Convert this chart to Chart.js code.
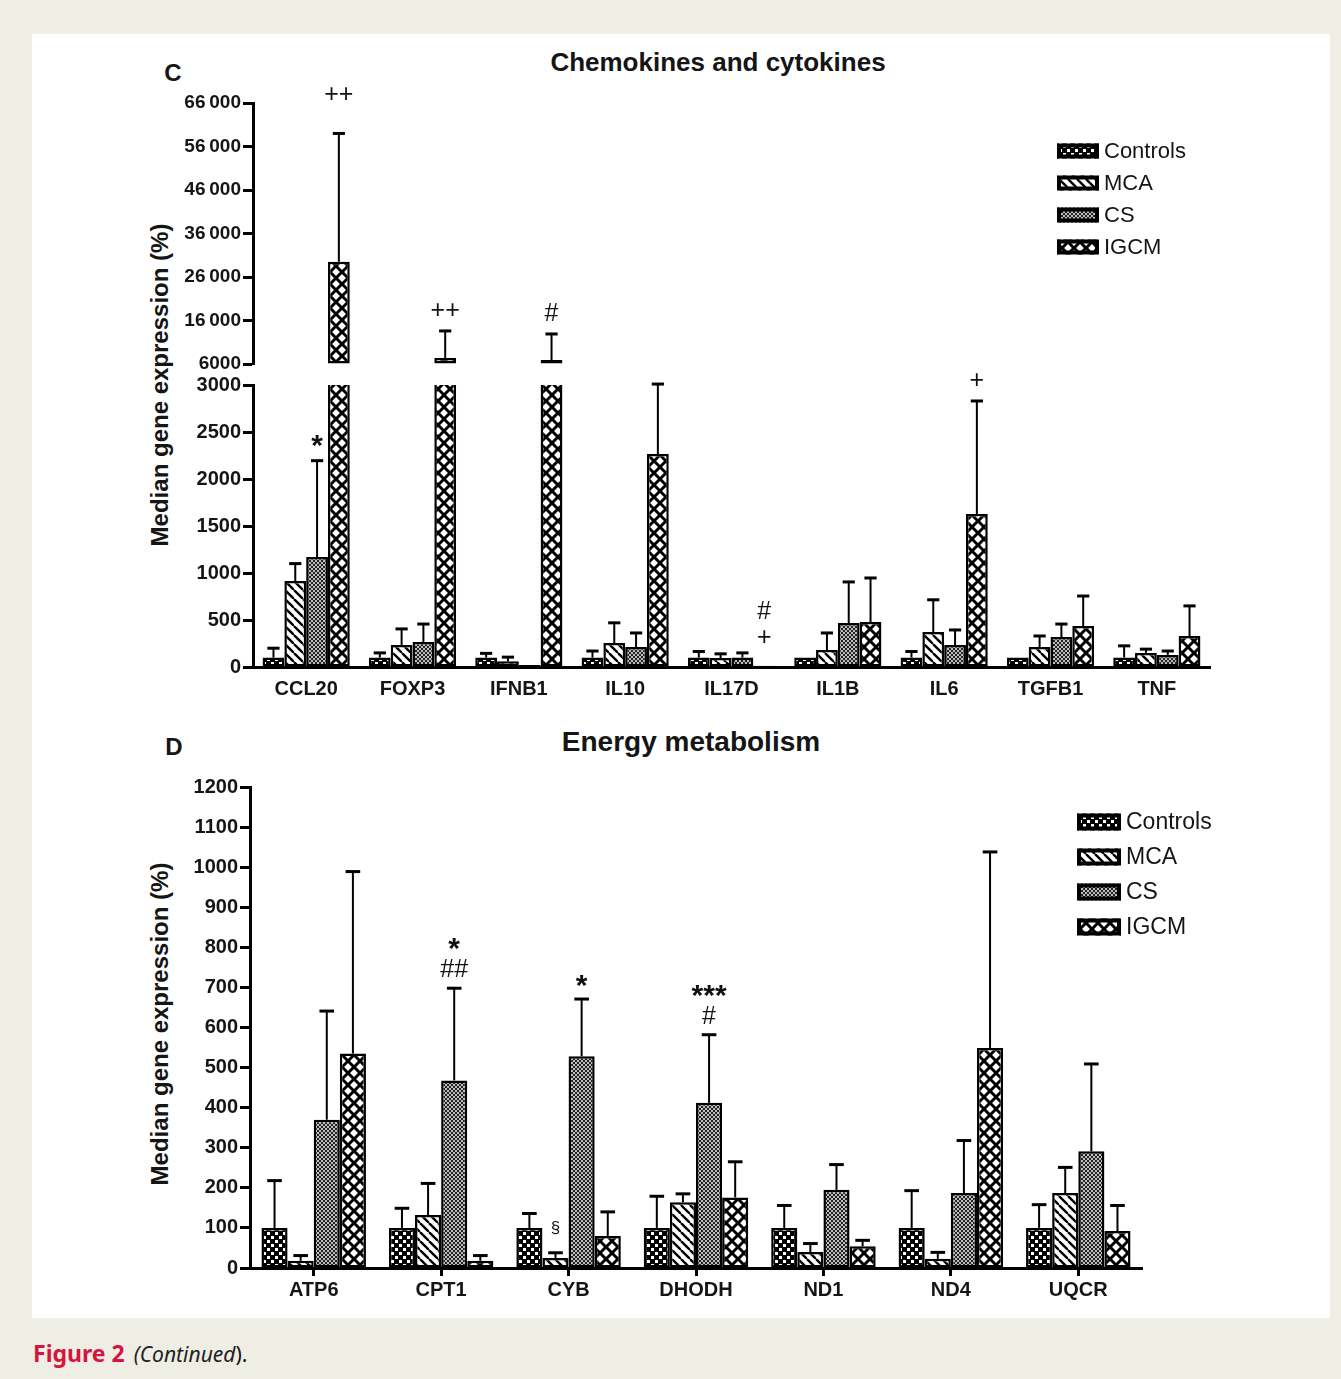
<!DOCTYPE html>
<html>
<head>
<meta charset="utf-8">
<title>Figure 2 (Continued)</title>
<script src="https://cdn.jsdelivr.net/npm/chart.js@4.4.1/dist/chart.umd.min.js"></script>
<style>
  body { margin: 0; width: 1341px; height: 1379px; position: relative; overflow: hidden;
         background: #efeee5; font-family: "Liberation Sans", Arial, sans-serif; color: #151515; }
  .panel { position: absolute; left: 32px; top: 34px; width: 1298px; height: 1284px; background: #fff; }
  canvas { position: absolute; }
  .t { position: absolute; white-space: nowrap; transform: translate(-50%, -50%); font-weight: bold; }
  .ylab { transform: translate(-50%, -50%) rotate(-90deg); font-size: 24px; }
  .caption { position: absolute; left: 33px; top: 1337px; font-family: "Noto Sans", sans-serif; font-size: 21px; }
  .caption b { color: #d3153f; font-size: 23px; }
  .caption i { margin-left: 9px; color: #222; }
</style>
</head>
<body>
<div class="panel"></div>

<div class="t" style="left:173px;top:73px;font-size:24px">C</div>
<div class="t" style="left:718px;top:62px;font-size:26px">Chemokines and cytokines</div>
<div class="t ylab" style="left:160px;top:385px">Median gene expression (%)</div>

<div class="t" style="left:174px;top:747px;font-size:24px">D</div>
<div class="t" style="left:691px;top:742px;font-size:28px">Energy metabolism</div>
<div class="t ylab" style="left:160px;top:1024px">Median gene expression (%)</div>

<canvas id="cUpper" width="1100" height="300" style="left:150px;top:80px"></canvas>
<canvas id="cLower" width="1100" height="342" style="left:150px;top:365px"></canvas>
<canvas id="dChart" width="1100" height="555" style="left:150px;top:755px"></canvas>

<div class="caption"><b>Figure 2</b><i>(Continued</i>).</div>

<script>
'use strict';

// ---- data ---------------------------------------------------------------
var groups = ['Controls', 'MCA', 'CS', 'IGCM'];

// panel C: chemokines and cytokines
var cCategories = ['CCL20', 'FOXP3', 'IFNB1', 'IL10', 'IL17D', 'IL1B', 'IL6', 'TGFB1', 'TNF'];
var cControls    = [100, 100, 100, 100, 100, 100, 100, 100, 100];
var cControlsErr = [200, 150, 145, 170, 165, null, 165, null, 225];
var cMCA         = [915, 235, 60, 255, 95, 180, 372, 213, 150];
var cMCAErr      = [1100, 405, 105, 470, 140, 362, 715, 330, 190];
var cCS          = [1170, 265, 20, 213, 100, 468, 234, 319, 128];
var cCSErr       = [2195, 457, null, 362, 150, 905, 394, 457, 170];
var cIGCM        = [29500, 7400, 6900, 2265, 12, 479, 1628, 436, 330];
var cIGCMErr     = [59000, 13600, 12900, 3010, null, 947, 2830, 755, 650];

var cUpperTicks      = [6000, 16000, 26000, 36000, 46000, 56000, 66000];
var cUpperTickLabels = ['6000', '16\u2009000', '26\u2009000', '36\u2009000', '46\u2009000', '56\u2009000', '66\u2009000'];
var cLowerTicks      = [0, 500, 1000, 1500, 2000, 2500, 3000];
var cLowerTickLabels = ['0', '500', '1000', '1500', '2000', '2500', '3000'];

// panel D: energy metabolism
var dCategories = ['ATP6', 'CPT1', 'CYB', 'DHODH', 'ND1', 'ND4', 'UQCR'];
var dControls    = [100, 100, 100, 100, 100, 100, 100];
var dControlsErr = [218, 149, 136, 179, 156, 193, 158];
var dMCA         = [18, 132, 25, 164, 40, 23, 187];
var dMCAErr      = [31, 211, 38, 185, 61, 39, 251];
var dCS          = [370, 468, 528, 412, 195, 187, 291];
var dCSErr       = [641, 698, 671, 582, 258, 318, 509];
var dIGCM        = [535, 18, 80, 176, 54, 549, 92];
var dIGCMErr     = [989, 31, 140, 265, 69, 1038, 156];

var dTicks      = [0, 100, 200, 300, 400, 500, 600, 700, 800, 900, 1000, 1100, 1200];
var dTickLabels = ['0', '100', '200', '300', '400', '500', '600', '700', '800', '900', '1000', '1100', '1200'];

// significance marks: category, group index, text lines (top to bottom)
var cMarks = [
	{ cat: 'CCL20', group: 3, lines: ['++'], lift: 18 },
	{ cat: 'CCL20', group: 2, lines: ['*'] },
	{ cat: 'FOXP3', group: 3, lines: ['++'] },
	{ cat: 'IFNB1', group: 3, lines: ['#'] },
	{ cat: 'IL17D', group: 3, lines: ['#', '+'], lift: 8 },
	{ cat: 'IL6',   group: 3, lines: ['+'] }
];
var dMarks = [
	{ cat: 'CPT1',  group: 2, lines: ['*', '##'] },
	{ cat: 'CYB',   group: 2, lines: ['*'] },
	{ cat: 'CYB',   group: 1, lines: ['\u00a7'], small: true },
	{ cat: 'DHODH', group: 2, lines: ['***', '#'] }
];

// ---- patterns -----------------------------------------------------------
var FONT = '"Liberation Sans", Arial, sans-serif';

function tile(size, draw) {
	var c = document.createElement('canvas');
	c.width = size; c.height = size;
	var x = c.getContext('2d');
	x.fillStyle = '#fff';
	x.fillRect(0, 0, size, size);
	draw(x, size);
	return document.createElement('canvas').getContext('2d').createPattern(c, 'repeat');
}
function diagonals(x, s, both) {
	for (var k = -1; k <= 1; k++) {
		x.beginPath(); x.moveTo(k * s, 0); x.lineTo(k * s + s, s); x.stroke();
		if (both) { x.beginPath(); x.moveTo(k * s + s, 0); x.lineTo(k * s, s); x.stroke(); }
	}
}
var patterns = [
	tile(8, function(x) {               // Controls: checkerboard
		x.fillStyle = '#000'; x.fillRect(0, 0, 8, 8);
		x.fillStyle = '#fff'; x.fillRect(1, 1, 3, 3); x.fillRect(5, 5, 3, 3);
	}),
	tile(9, function(x, s) {            // MCA: diagonal stripes
		x.strokeStyle = '#000'; x.lineWidth = 2.4; diagonals(x, s, false);
	}),
	tile(4, function(x, s) {            // CS: fine cross-hatch
		x.strokeStyle = '#1a1a1a'; x.lineWidth = 1.1; diagonals(x, s, true);
	}),
	tile(12, function(x, s) {           // IGCM: diamond lattice
		x.strokeStyle = '#000'; x.lineWidth = 3; diagonals(x, s, true);
	})
];

// ---- plugins ------------------------------------------------------------
function errorBarPlugin() {
	return {
		id: 'errorBars',
		afterDatasetsDraw: function(chart) {
			var ctx = chart.ctx, a = chart.chartArea, y = chart.scales.y;
			ctx.save();
			ctx.beginPath();
			ctx.rect(a.left, a.top - 3, a.right - a.left, a.bottom - a.top + 3);
			ctx.clip();
			ctx.strokeStyle = '#000';
			chart.data.datasets.forEach(function(ds, di) {
				chart.getDatasetMeta(di).data.forEach(function(bar, i) {
					var e = ds.errors[i];
					if (e == null) { return; }
					var top = y.getPixelForValue(ds.data[i]);
					var ey = y.getPixelForValue(e);
					var half = bar.width * 0.28;
					ctx.lineWidth = 2;
					ctx.beginPath(); ctx.moveTo(bar.x, top); ctx.lineTo(bar.x, ey); ctx.stroke();
					ctx.lineWidth = 3;
					ctx.beginPath(); ctx.moveTo(bar.x - half, ey); ctx.lineTo(bar.x + half, ey); ctx.stroke();
				});
			});
			ctx.restore();
		}
	};
}

function marksPlugin(marks, gap) {
	return {
		id: 'marks',
		afterDraw: function(chart) {
			var ctx = chart.ctx, y = chart.scales.y;
			ctx.save();
			ctx.fillStyle = '#111';
			ctx.textAlign = 'center';
			ctx.textBaseline = 'middle';
			marks.forEach(function(m) {
				var i = chart.data.labels.indexOf(m.cat);
				var ds = chart.data.datasets[m.group];
				var v = ds.errors[i] != null ? ds.errors[i] : ds.data[i];
				if (v < y.min || v > y.max) { return; }
				var bar = chart.getDatasetMeta(m.group).data[i];
				var base = y.getPixelForValue(v) - gap - (m.lift || 0) - (m.small ? 6 : 0);
				for (var k = m.lines.length - 1, n = 0; k >= 0; k--, n++) {
					var s = m.lines[k];
					var star = s.charAt(0) === '*';
					ctx.font = m.small ? '17px ' + FONT : (star ? 'bold 30px ' + FONT : '25px ' + FONT);
					ctx.fillText(s, bar.x, base - n * 26 + (star ? 6 : 0));
				}
			});
			ctx.restore();
		}
	};
}

function legendPlugin(cfg) {
	return {
		id: 'boxLegend',
		afterDraw: function(chart) {
			var ctx = chart.ctx, a = chart.chartArea;
			ctx.save();
			chart.data.datasets.forEach(function(ds, k) {
				var x = a.left + cfg.x, cy = a.top + cfg.y + k * cfg.step;
				ctx.fillStyle = ds.backgroundColor;
				ctx.fillRect(x, cy - cfg.h / 2, cfg.w, cfg.h);
				ctx.lineWidth = 4;
				ctx.strokeStyle = '#000';
				ctx.strokeRect(x + 2, cy - cfg.h / 2 + 2, cfg.w - 4, cfg.h - 4);
				ctx.fillStyle = '#151515';
				ctx.font = cfg.size + 'px ' + FONT;
				ctx.textBaseline = 'middle';
				ctx.fillText(ds.label, x + cfg.w + 5, cy + 1);
			});
			ctx.restore();
		}
	};
}

// ---- chart builder ------------------------------------------------------
function buildChart(id, cats, values, errors, o) {
	var datasets = values.map(function(vals, k) {
		return {
			label: groups[k],
			data: vals,
			errors: errors[k],
			backgroundColor: patterns[k],
			borderColor: '#000',
			borderWidth: 2.5,
			borderSkipped: false,
			base: o.base,
			clip: 0,
			categoryPercentage: 0.82,
			barPercentage: 1
		};
	});
	var plugins = [errorBarPlugin(), marksPlugin(o.marks || [], o.gap || 20)];
	if (o.legend) { plugins.push(legendPlugin(o.legend)); }

	return new Chart(document.getElementById(id).getContext('2d'), {
		type: 'bar',
		data: { labels: cats, datasets: datasets },
		plugins: plugins,
		options: {
			responsive: false,
			animation: false,
			devicePixelRatio: 1,
			layout: { padding: o.padding },
			plugins: { legend: { display: false }, tooltip: { enabled: false } },
			scales: {
				x: {
					display: o.showX,
					grid: { display: !!o.xTicks, drawOnChartArea: false, drawTicks: true, tickLength: 8,
						tickWidth: 3, color: '#000', offset: false },
					border: { display: true, width: 3, color: '#000' },
					ticks: { color: '#151515', font: { family: FONT, size: 20, weight: 'bold' },
						padding: 2, maxRotation: 0, autoSkip: false },
					afterFit: function(s) { s.height = o.showX ? o.xHeight : 0; }
				},
				y: {
					min: o.ticks[0],
					max: o.ticks[o.ticks.length - 1],
					afterBuildTicks: function(s) { s.ticks = o.ticks.map(function(v) { return { value: v }; }); },
					grid: { drawOnChartArea: false, drawTicks: true, tickLength: 10, tickWidth: 3, color: '#000' },
					border: { display: true, width: 3, color: '#000' },
					ticks: {
						color: '#151515',
						padding: 2,
						font: { family: FONT, size: o.tickSize, weight: 'bold' },
						callback: function(v, i) { return o.tickLabels[i]; }
					},
					afterFit: function(s) { s.width = o.yWidth; }
				}
			}
		}
	});
}

var cValues = [cControls, cMCA, cCS, cIGCM];
var cErrors = [cControlsErr, cMCAErr, cCSErr, cIGCMErr];

buildChart('cUpper', cCategories, cValues, cErrors, {
	base: cUpperTicks[0], ticks: cUpperTicks, tickLabels: cUpperTickLabels, tickSize: 19,
	yWidth: 103, showX: false, padding: { top: 23, right: 40, bottom: 16, left: 0 },
	marks: cMarks, gap: 20,
	legend: { x: 804, y: 48, step: 32, w: 42, h: 15, size: 22 }
});

buildChart('cLower', cCategories, cValues, cErrors, {
	ticks: cLowerTicks, tickLabels: cLowerTickLabels, tickSize: 20,
	yWidth: 103, showX: true, xHeight: 40, padding: { top: 20, right: 40, bottom: 0, left: 0 },
	marks: cMarks, gap: 20
});

buildChart('dChart', dCategories, [dControls, dMCA, dCS, dIGCM], [dControlsErr, dMCAErr, dCSErr, dIGCMErr], {
	ticks: dTicks, tickLabels: dTickLabels, tickSize: 20,
	yWidth: 100, showX: true, xHeight: 42, xTicks: true, padding: { top: 32, right: 108, bottom: 0, left: 0 },
	marks: dMarks, gap: 18,
	legend: { x: 827, y: 35, step: 35, w: 44, h: 17, size: 23 }
});
</script>
</body>
</html>
